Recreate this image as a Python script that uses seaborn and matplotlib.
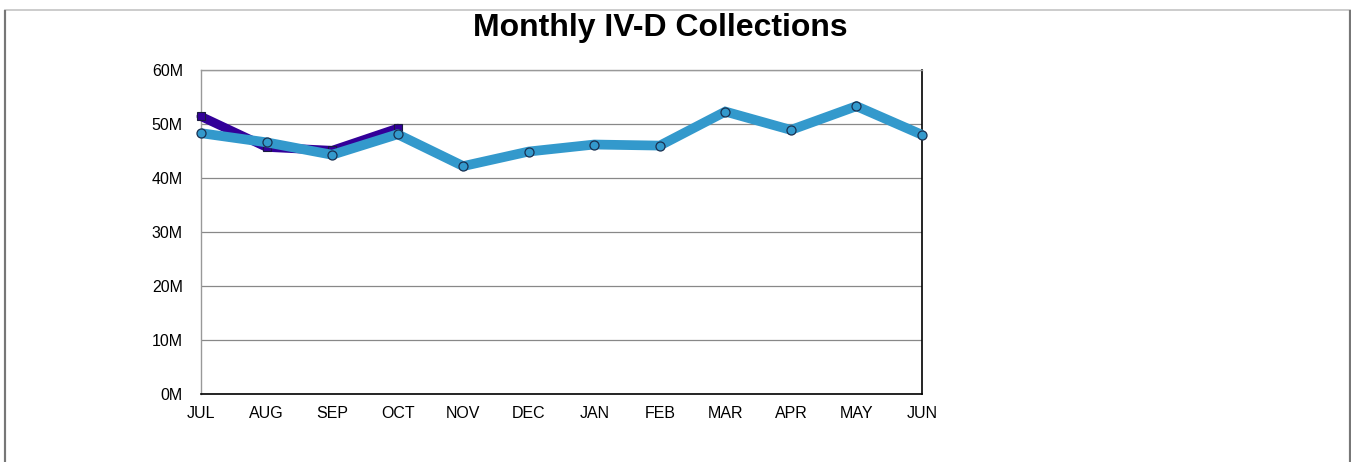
import matplotlib
matplotlib.use("Agg")
import matplotlib.pyplot as plt
import seaborn as sns
import pandas as pd
from matplotlib.ticker import FuncFormatter, MultipleLocator
from matplotlib.patches import Rectangle

sns.set_theme(style="white")
plt.rcParams["font.family"] = ["Liberation Sans", "DejaVu Sans"]

months = ["JUL", "AUG", "SEP", "OCT", "NOV", "DEC", "JAN", "FEB", "MAR", "APR", "MAY", "JUN"]
# Collections in millions of dollars
current_year = [51.4, 45.7, 45.1, 49.2]
prior_year = [48.3, 46.6, 44.3, 48.1, 42.2, 44.9, 46.2, 46.0, 52.3, 48.9, 53.3, 48.0]

df_prior = pd.DataFrame({"month": range(len(months)), "value": prior_year})
df_curr = pd.DataFrame({"month": range(len(current_year)), "value": current_year})

fig = plt.figure(figsize=(13.51, 4.62), dpi=100)
ax = fig.add_axes([201 / 1351, 1 - 394 / 462, 721 / 1351, 324 / 462])

# outer frame
fig.patches.append(Rectangle((5.5 / 1351, -0.1), 1344.5 / 1351, 1.1 - 9.5 / 462,
                             transform=fig.transFigure, fill=False,
                             edgecolor="#c4c4c4", linewidth=1.2))
fig.patches.append(Rectangle((5.5 / 1351, -0.1), 0, 1.1 - 9.5 / 462,
                             transform=fig.transFigure, fill=False,
                             edgecolor="#777777", linewidth=1.5))
fig.patches.append(Rectangle((1349.5 / 1351, -0.1), 0, 1.1 - 9.5 / 462,
                             transform=fig.transFigure, fill=False,
                             edgecolor="#777777", linewidth=1.5))

sns.lineplot(data=df_curr, x="month", y="value", ax=ax, color="#330099",
             linewidth=6.5, marker="s", markersize=6, markerfacecolor="#330099",
             markeredgecolor="#1a1a40", markeredgewidth=0.8, zorder=3,
             clip_on=False, solid_capstyle="round", solid_joinstyle="round")
sns.lineplot(data=df_prior, x="month", y="value", ax=ax, color="#3399CC",
             linewidth=7, marker="o", markersize=6.5, markerfacecolor="#3399CC",
             markeredgecolor="#1a3050", markeredgewidth=0.9, zorder=4,
             clip_on=False, solid_capstyle="butt", solid_joinstyle="miter")

ax.set_xlim(0, len(months) - 1)
ax.set_ylim(0, 60)
ax.yaxis.set_major_locator(MultipleLocator(10))
ax.yaxis.set_major_formatter(FuncFormatter(lambda v, p: f"{v:.0f}M"))
ax.set_xticks(range(len(months)))
ax.set_xticklabels(months)
ax.set_xlabel("")
ax.set_ylabel("")
ax.grid(axis="y", color="#888888", linewidth=0.9)
ax.grid(axis="x", visible=False)
ax.set_axisbelow(True)

for side in ["left", "top"]:
    ax.spines[side].set_color("#999999")
    ax.spines[side].set_linewidth(1.0)
for side in ["right", "bottom"]:
    ax.spines[side].set_color("black")
    ax.spines[side].set_linewidth(1.2)

ax.tick_params(axis="both", length=0, labelsize=11.5, colors="black")
ax.tick_params(axis="y", pad=13)
ax.tick_params(axis="x", pad=9)

fig.text(660 / 1351, 1 - 28 / 462, "Monthly IV-D Collections", ha="center",
         va="center", fontsize=23, fontweight="bold", color="black")

fig.savefig("out.png", dpi=100, facecolor="white")
